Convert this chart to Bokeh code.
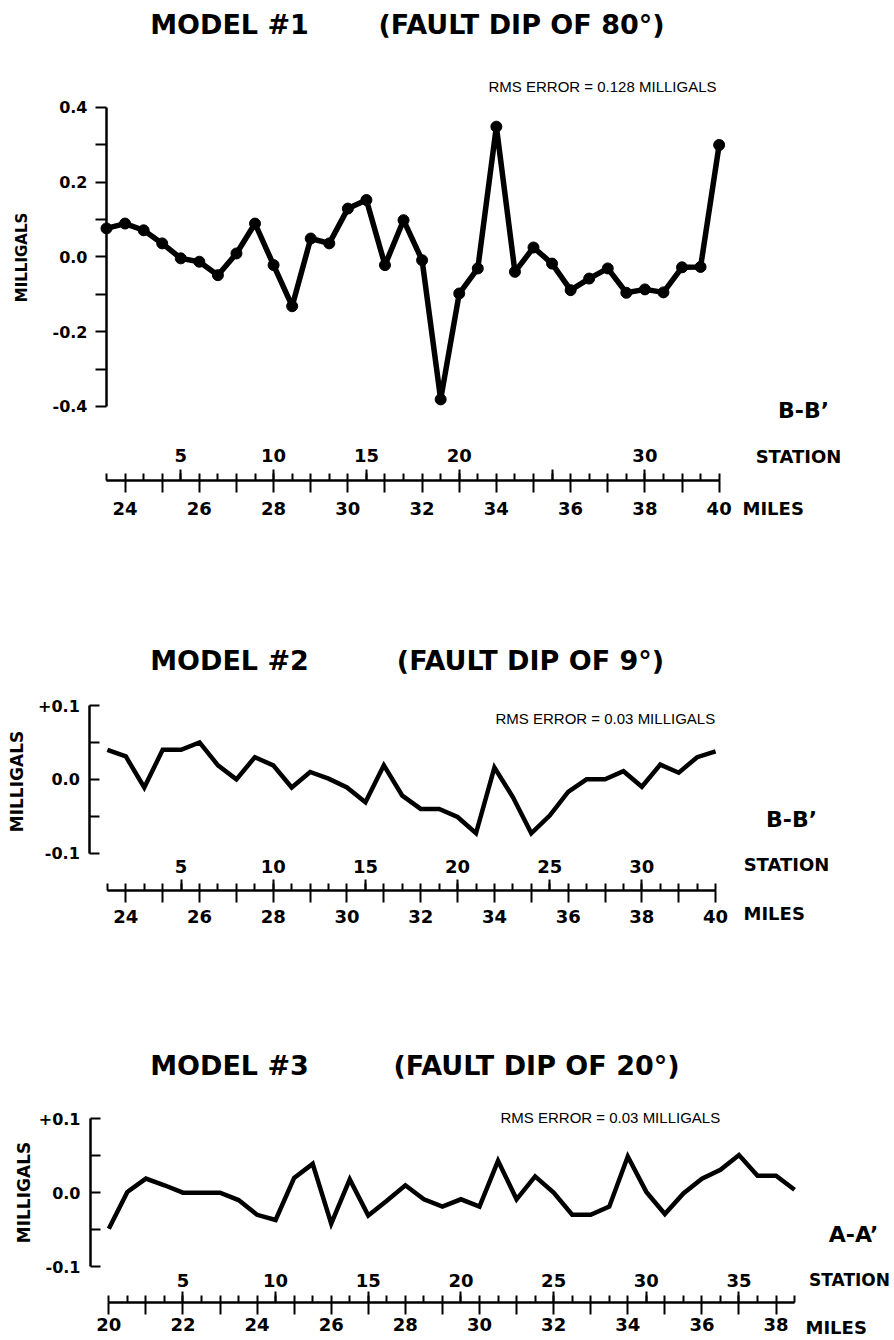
from bokeh.plotting import figure
from bokeh.models import Range1d, LinearAxis, FixedTicker, CustomJSTickFormatter, Label
from bokeh.layouts import column
from bokeh.embed import file_html
from bokeh.resources import INLINE

# ---------------- data ----------------
stations_1 = list(range(1, 35))
milligals_1 = [0.076, 0.089, 0.071, 0.036, -0.004, -0.013, -0.049, 0.009, 0.089, -0.022,
               -0.132, 0.049, 0.036, 0.129, 0.152, -0.022, 0.098, -0.009, -0.381, -0.098,
               -0.031, 0.348, -0.040, 0.025, -0.018, -0.089, -0.058, -0.031, -0.096, -0.087,
               -0.095, -0.028, -0.027, 0.299]

stations_2 = list(range(1, 35))
milligals_2 = [0.040, 0.031, -0.011, 0.040, 0.040, 0.050, 0.019, 0.000, 0.030, 0.019,
               -0.011, 0.010, 0.001, -0.011, -0.031, 0.019, -0.022, -0.040, -0.040, -0.051,
               -0.073, 0.016, -0.024, -0.073, -0.049, -0.017, 0.000, 0.000, 0.011, -0.010,
               0.020, 0.009, 0.030, 0.038]

stations_3 = list(range(1, 39))
milligals_3 = [-0.049, 0.001, 0.019, 0.010, 0.000, 0.000, 0.000, -0.010, -0.030, -0.037,
               0.020, 0.039, -0.042, 0.018, -0.031, -0.011, 0.010, -0.009, -0.019, -0.009,
               -0.019, 0.043, -0.009, 0.022, 0.000, -0.030, -0.030, -0.019, 0.049, 0.001,
               -0.029, -0.001, 0.019, 0.031, 0.051, 0.023, 0.023, 0.004]

station_major_1 = [5, 10, 15, 20, 25, 30]
station_labels_1 = [5, 10, 15, 20, 30]
station_major_2 = [5, 10, 15, 20, 25, 30]
station_labels_2 = [5, 10, 15, 20, 25, 30]
station_major_3 = [5, 10, 15, 20, 25, 30, 35]
station_labels_3 = [5, 10, 15, 20, 25, 30, 35]

mile_labels_12 = [24, 26, 28, 30, 32, 34, 36, 38, 40]
mile_minor_12 = [25, 27, 29, 31, 33, 35, 37, 39]
mile_labels_3 = [20, 22, 24, 26, 28, 30, 32, 34, 36, 38]
mile_minor_3 = [21, 23, 25, 27, 29, 31, 33, 35, 37]

y_ticks_1 = [-0.4, -0.2, 0.0, 0.2, 0.4]
y_minor_1 = [-0.3, -0.1, 0.1, 0.3]
y_ticks_23 = [-0.1, 0.0, 0.1]
y_minor_23 = [-0.05, 0.05]

titles_left = ["MODEL #1", "MODEL #2", "MODEL #3"]
titles_right = ["(FAULT DIP OF 80°)", "(FAULT DIP OF 9°)", "(FAULT DIP OF 20°)"]
rms_texts = ["RMS ERROR = 0.128 MILLIGALS", "RMS ERROR = 0.03 MILLIGALS",
             "RMS ERROR = 0.03 MILLIGALS"]
section_names = ["B-B’", "B-B’", "A-A’"]

W = 894
BOLD = "DejaVu Sans"
PLAIN = "Liberation Sans"


def make_panel(stations, values, station_major, station_labels, mile_labels, mile_minor,
               y_ticks, y_minor, y_code, g, texts):
    kx, origin = g["kx"], g["origin"]
    top, bottom, y0, ky = g["top"], g["bottom"], g["y0"], g["ky"]
    H = bottom - top
    first_mile = origin + 0.5 * stations[0]
    last_mile = origin + 0.5 * stations[-1]

    def mx(px):  # page pixel -> miles
        return first_mile + (px - g["first_px"]) / kx

    def vy(py):  # page pixel -> milligals
        return (y0 - py) / ky

    xr = Range1d(mx(0), mx(W))
    sr = Range1d(2 * (mx(0) - origin), 2 * (mx(W) - origin))
    yr = Range1d(vy(bottom), vy(top))

    p = figure(width=W, height=H, x_range=xr, y_range=yr, extra_x_ranges={"station": sr},
               output_backend="svg", toolbar_location=None, x_axis_location=None,
               y_axis_location=None, min_border_left=0, min_border_right=0, min_border_top=0,
               min_border_bottom=0, outline_line_color=None, background_fill_color="white",
               border_fill_color="white")
    p.grid.visible = False
    p.line(stations, values, x_range_name="station", line_width=g["lw"], color="black",
           line_join=g["join"])
    if g["markers"]:
        p.scatter(stations, values, x_range_name="station", size=11, color="black")

    common = dict(axis_line_color="black", major_tick_line_color="black",
                  minor_tick_line_color="black", major_label_text_font=BOLD,
                  major_label_text_font_style="bold", major_label_text_color="black",
                  major_tick_line_width=2, minor_tick_line_width=2)

    # milligal axis
    yax = LinearAxis(ticker=FixedTicker(ticks=y_ticks, minor_ticks=y_minor),
                     formatter=CustomJSTickFormatter(code=y_code),
                     bounds=(min(y_ticks), max(y_ticks)), fixed_location=mx(g["yaxis_px"]),
                     axis_line_width=2.5, major_tick_out=g["yt_out"], major_tick_in=g["yt_in"],
                     minor_tick_out=g["yt_out"], minor_tick_in=g["yt_in"],
                     major_label_text_font_size="16px", major_label_standoff=g["ylab_standoff"],
                     **common)
    p.add_layout(yax, "left")

    # station scale above and miles scale below one common line
    line_y = vy(g["axis_py"])
    st_axis = LinearAxis(x_range_name="station",
                         ticker=FixedTicker(ticks=station_major, minor_ticks=stations),
                         formatter=CustomJSTickFormatter(
                             args=dict(show=station_labels),
                             code="return show.includes(tick) ? String(tick) : ''"),
                         bounds=(stations[0], stations[-1]), fixed_location=line_y,
                         major_tick_out=11, major_tick_in=0, minor_tick_out=7, minor_tick_in=0,
                         axis_line_width=2, major_label_text_font_size="18px",
                         major_label_standoff=g["st_standoff"], **common)
    p.add_layout(st_axis, "above")
    mi_axis = LinearAxis(ticker=FixedTicker(ticks=mile_labels, minor_ticks=mile_minor),
                         bounds=(first_mile, last_mile), fixed_location=line_y,
                         major_tick_out=12, major_tick_in=0, minor_tick_out=12, minor_tick_in=0,
                         axis_line_width=2, major_label_text_font_size="18px",
                         major_label_standoff=g["mi_standoff"], **common)
    p.add_layout(mi_axis, "below")

    def bold_label(px, py, text, size, align="center", angle=0):
        return Label(x=mx(px), y=vy(py), text=text, text_align=align, text_baseline="middle",
                     text_font=BOLD, text_font_style="bold", text_font_size=size,
                     text_color="black", angle=angle, angle_units="deg")

    tl, tr, rms, sec = texts
    p.add_layout(bold_label(229, g["title_py"], tl, "27px"))
    p.add_layout(bold_label(g["title2_px"], g["title_py"], tr, "27px"))
    p.add_layout(Label(x=mx(g["rms_px"]), y=vy(g["rms_py"]), text=rms, text_align="left",
                       text_baseline="middle", text_font=PLAIN, text_font_size="15px",
                       text_color="black"))
    p.add_layout(bold_label(g["sec_px"], g["sec_py"], sec, "22px"))
    p.add_layout(bold_label(g["station_px"], g["station_py"], "STATION", g["station_size"]))
    p.add_layout(bold_label(g["miles_px"], g["miles_py"], "MILES", "18px", align="left"))
    p.add_layout(bold_label(g["mg_px"], g["mg_py"], "MILLIGALS", g["mg_size"], angle=90))
    return p


g1 = dict(kx=37.13, origin=23.0, first_px=106, top=0, bottom=530, y0=256.35, ky=374.1,
          lw=5.5, join="round", markers=True, yaxis_px=106, yt_out=11, yt_in=0,
          ylab_standoff=8, axis_py=480, st_standoff=8, mi_standoff=9,
          title_py=24, title2_px=521, rms_px=488, rms_py=86, sec_px=803, sec_py=410,
          station_px=798, station_py=455.7, station_size="18px", miles_px=742, miles_py=507.7,
          mg_px=21.7, mg_py=257, mg_size="15px")
g2 = dict(kx=36.86, origin=23.0, first_px=106.9, top=530, bottom=936, y0=778.85, ky=738.5,
          lw=4.5, join="miter", markers=False, yaxis_px=89.3, yt_out=0, yt_in=10,
          ylab_standoff=10, axis_py=890, st_standoff=7, mi_standoff=7,
          title_py=660, title2_px=530, rms_px=495, rms_py=718, sec_px=791, sec_py=819,
          station_px=786, station_py=864, station_size="18px", miles_px=743, miles_py=913,
          mg_px=16.5, mg_py=781, mg_size="17px")
g3 = dict(kx=37.07, origin=19.5, first_px=108.3, top=936, bottom=1340, y0=1192.15, ky=738.5,
          lw=4.5, join="miter", markers=False, yaxis_px=90, yt_out=0, yt_in=10,
          ylab_standoff=10, axis_py=1302, st_standoff=5, mi_standoff=3,
          title_py=1065, title2_px=536, rms_px=500, rms_py=1117, sec_px=853, sec_py=1234,
          station_px=849, station_py=1279.6, station_size="17px", miles_px=805, miles_py=1327,
          mg_px=23.3, mg_py=1192, mg_size="17px")

code_1 = "return tick.toFixed(1)"
code_23 = "return (tick > 0 ? '+' : '') + tick.toFixed(1)"

p1 = make_panel(stations_1, milligals_1, station_major_1, station_labels_1, mile_labels_12,
                mile_minor_12, y_ticks_1, y_minor_1, code_1, g1,
                (titles_left[0], titles_right[0], rms_texts[0], section_names[0]))
p2 = make_panel(stations_2, milligals_2, station_major_2, station_labels_2, mile_labels_12,
                mile_minor_12, y_ticks_23, y_minor_23, code_23, g2,
                (titles_left[1], titles_right[1], rms_texts[1], section_names[1]))
p3 = make_panel(stations_3, milligals_3, station_major_3, station_labels_3, mile_labels_3,
                mile_minor_3, y_ticks_23, y_minor_23, code_23, g3,
                (titles_left[2], titles_right[2], rms_texts[2], section_names[2]))

layout = column(p1, p2, p3, spacing=0)
open("out.html", "w").write(file_html(layout, INLINE))
